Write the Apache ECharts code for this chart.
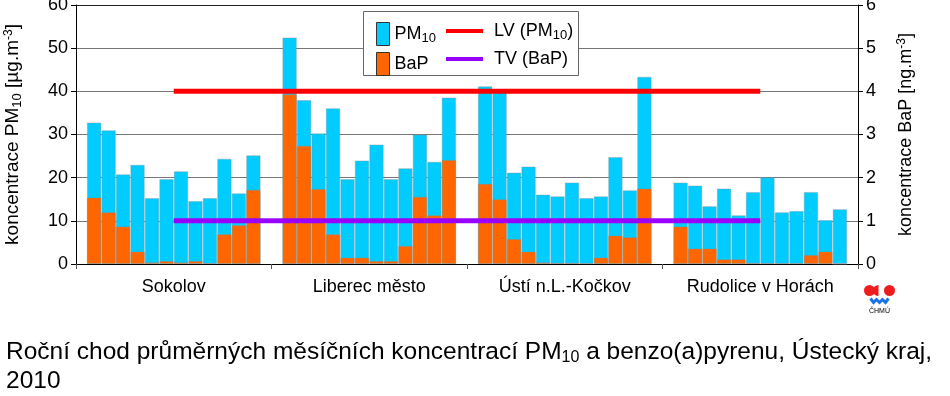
<!DOCTYPE html>
<html>
<head>
<meta charset="utf-8">
<script src="https://cdn.jsdelivr.net/npm/echarts@6/dist/echarts.min.js"></script>
<style>
  html, body {margin: 0; padding: 0; background: #fff;}
  #chart {width: 950px; height: 396px;}
</style>
</head>
<body>
<div id="chart"></div>
<script>
const stations = ["Sokolov", "Liberec město", "Ústí n.L.-Kočkov", "Rudolice v Horách"];

// monthly means, Jan..Dec
const pm10Sokolov = [32.8, 31.0, 20.8, 23.0, 15.3, 19.7, 21.5, 14.6, 15.3, 24.4, 16.4, 25.2];
const pm10Liberec = [52.5, 38.0, 30.3, 36.1, 19.7, 24.0, 27.7, 19.7, 22.2, 30.0, 23.7, 38.6];
const pm10Usti = [41.2, 40.5, 21.2, 22.6, 16.1, 15.7, 18.9, 15.3, 15.7, 24.8, 17.1, 43.4];
const pm10Rudolice = [18.9, 18.2, 13.4, 17.5, 11.3, 16.7, 20.1, 12.0, 12.3, 16.7, 10.2, 12.7];

const bapSokolov = [1.54, 1.20, 0.87, 0.29, 0.04, 0.07, 0.04, 0.07, 0.02, 0.69, 0.90, 1.72];
const bapLiberec = [3.93, 2.74, 1.74, 0.69, 0.15, 0.15, 0.07, 0.07, 0.42, 1.56, 1.13, 2.41];
const bapUsti = [1.86, 1.50, 0.58, 0.29, 0.04, 0.03, 0.03, 0.02, 0.15, 0.66, 0.62, 1.75];
const bapRudolice = [0.87, 0.36, 0.36, 0.11, 0.11, 0.03, 0.02, 0.02, 0.02, 0.21, 0.29, 0.0];

const limitPm10 = 40;  // LV
const targetBap = 1;   // TV

const pm10Values = [pm10Sokolov, pm10Liberec, pm10Usti, pm10Rudolice];
const bapValues = [bapSokolov, bapLiberec, bapUsti, bapRudolice];

// each station takes 13.5 slots on a hidden value axis: 12 months plus a gap
const SLOTS = 13.5;
const PAD = 0.75;
const monthX = (s, m) => s * SLOTS + PAD + m + 0.5;
const stationCenter = s => s * SLOTS + SLOTS / 2;

function toPoints(groups) {
  const points = [];
  groups.forEach((values, s) => values.forEach((v, m) => points.push([monthX(s, m), v])));
  return points;
}

const FONT = "Liberation Sans";
const rich = {
  sub: {fontSize: 13, fontFamily: FONT, padding: [9, 0, 0, 0]},
  sup: {fontSize: 12, fontFamily: FONT, padding: [0, 0, 8, 0]},
};
const legendName = name => name.replace("PM10", "PM{sub|10}");

const chart = echarts.init(document.getElementById("chart"));
chart.setOption({
  animation: false,
  textStyle: {fontFamily: FONT, color: "#000"},
  grid: {left: 76, right: 92, top: 5, bottom: 132, outerBoundsMode: "none", containLabel: false},
  title: {
    text: "Roční chod průměrných měsíčních koncentrací PM{sub|10} a benzo(a)pyrenu, Ústecký kraj,\n2010",
    left: 1,
    top: 333,
    textStyle: {fontSize: 24.5, fontWeight: "normal", color: "#000", fontFamily: FONT, lineHeight: 29,
      rich: {sub: {fontSize: 16, fontFamily: FONT, padding: [11, 0, 0, 0]}}},
  },
  legend: [
    {
      data: ["PM10", "BaP"],
      orient: "vertical",
      left: 371,
      top: 17,
      icon: "rect",
      itemWidth: 13,
      itemHeight: 23,
      itemGap: 6,
      itemStyle: {borderColor: "#333", borderWidth: 1},
      formatter: legendName,
      textStyle: {fontSize: 18, color: "#000", rich},
    },
    {
      data: ["LV (PM10)", "TV (BaP)"],
      orient: "vertical",
      left: 441,
      top: 17,
      icon: "rect",
      itemWidth: 37,
      itemHeight: 4,
      itemGap: 8,
      formatter: legendName,
      textStyle: {fontSize: 18, color: "#000", padding: [0, 0, 0, 6], rich},
    },
  ],
  xAxis: [
    {type: "value", min: 0, max: SLOTS * stations.length, show: false},
    {
      type: "category",
      data: stations,
      position: "bottom",
      axisLine: {lineStyle: {color: "#000"}},
      axisTick: {show: true, length: 5, lineStyle: {color: "#555"}},
      axisLabel: {fontSize: 18, color: "#000", margin: 14, interval: 0},
    },
  ],
  yAxis: [
    {
      type: "value",
      min: 0, max: 60, interval: 10,
      name: "koncentrace PM{sub|10} [µg.m{sup|-3}]",
      nameLocation: "middle",
      nameGap: 52,
      nameTextStyle: {fontSize: 19, color: "#000", rich},
      axisLine: {show: true, lineStyle: {color: "#000"}},
      axisTick: {show: true, length: 5, lineStyle: {color: "#000"}},
      axisLabel: {fontSize: 18, color: "#000", margin: 8},
      splitLine: {lineStyle: {color: ["#777", "#777", "#777", "#777", "#777", "#777", "#222"]}},
    },
    {
      type: "value",
      min: 0, max: 6, interval: 1,
      position: "right",
      name: "koncentrace BaP [ng.m{sup|-3}]",
      nameLocation: "middle",
      nameGap: 38,
      nameRotate: 90,
      nameTextStyle: {fontSize: 18, color: "#000", rich},
      axisLine: {show: true, lineStyle: {color: "#000"}},
      axisTick: {show: true, length: 5, lineStyle: {color: "#000"}},
      axisLabel: {fontSize: 18, color: "#000", margin: 8},
      splitLine: {show: false},
    },
  ],
  series: [
    {
      name: "PM10",
      type: "bar",
      xAxisIndex: 0,
      yAxisIndex: 0,
      barWidth: 14.5,
      barGap: "-100%",
      itemStyle: {color: "#00CCFF", borderColor: "rgba(140,140,140,0.35)", borderWidth: 1},
      data: toPoints(pm10Values),
    },
    {
      name: "BaP",
      type: "bar",
      xAxisIndex: 0,
      yAxisIndex: 1,
      barWidth: 14.5,
      barGap: "-100%",
      itemStyle: {color: "#FF6600", borderColor: "rgba(140,140,140,0.35)", borderWidth: 1},
      data: toPoints(bapValues),
    },
    {
      name: "LV (PM10)",
      type: "line",
      xAxisIndex: 0,
      yAxisIndex: 0,
      symbol: "none",
      z: 5,
      itemStyle: {color: "#FF0000"},
      lineStyle: {color: "#FF0000", width: 5},
      data: [[stationCenter(0), limitPm10], [stationCenter(stations.length - 1), limitPm10]],
    },
    {
      name: "TV (BaP)",
      type: "line",
      xAxisIndex: 0,
      yAxisIndex: 1,
      symbol: "none",
      z: 5,
      itemStyle: {color: "#9900FF"},
      lineStyle: {color: "#9900FF", width: 5},
      data: [[stationCenter(0), targetBap], [stationCenter(stations.length - 1), targetBap]],
    },
  ],
  graphic: [
    {
      type: "rect",
      left: 363,
      top: 11,
      z: 1,
      shape: {width: 215, height: 64},
      style: {fill: "#fff", stroke: "#666", lineWidth: 1},
    },
    {
      type: "group",
      left: 864,
      top: 285,
      children: [
        {type: "circle", shape: {cx: 6, cy: 6, r: 5.5}, style: {fill: "#ee1c1c"}},
        {type: "sector", shape: {cx: 15, cy: 6, r: 5.5, startAngle: Math.PI / 2, endAngle: Math.PI * 1.5}, style: {fill: "#ee1c1c"}},
        {type: "circle", shape: {cx: 26, cy: 6, r: 5.5}, style: {fill: "#ee1c1c"}},
        {type: "polyline", shape: {points: [[7, 14], [10, 18], [13, 15], [16, 18], [19, 15], [22, 18], [25, 14]]},
          style: {stroke: "#1a73e8", lineWidth: 3, fill: null}},
        {type: "text", x: 16, y: 23, style: {text: "ČHMÚ", fontSize: 7, fontFamily: FONT, fill: "#000", align: "center"}},
      ],
    },
  ],
});
</script>
</body>
</html>
